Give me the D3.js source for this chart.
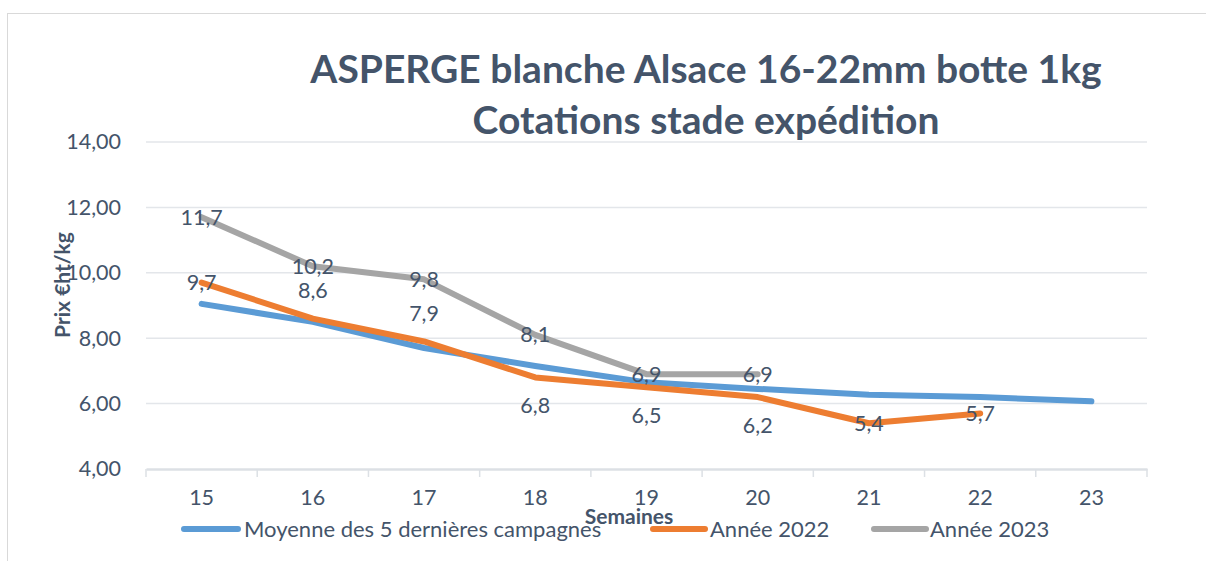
<!DOCTYPE html>
<html><head><meta charset="utf-8">
<script src="https://cdn.jsdelivr.net/npm/d3@7/dist/d3.min.js"></script>
<style>body{margin:0;background:#fff}svg{display:block}text{font-family:Lato,"Open Sans",sans-serif}</style>
</head><body><svg id="c" width="1206" height="561"></svg>
<script>
const weeks = ["15","16","17","18","19","20","21","22","23"];
const seriesNames = ["Moyenne des 5 dernières campagnes","Année 2022","Année 2023"];
const moyenne = [9.05,8.5,7.7,7.15,6.65,6.45,6.27,6.2,6.07];
const annee2022 = [9.7,8.6,7.9,6.8,6.5,6.2,5.4,5.7];
const annee2023 = [11.7,10.2,9.8,8.1,6.9,6.9];
const yTicks = [4,6,8,10,12,14];
const label2022Pos = ["c","a","a","b","b","b","c","c"];
const colors = ["#5B9BD5","#ED7D31","#A5A5A5"];
const textCol = "#44546A";

const svg = d3.select("#c");
svg.append("rect").attr("x",7.5).attr("y",13.5).attr("width",1300).attr("height",600)
  .attr("fill","#fff").attr("stroke","#D9D9D9");

const m = {l:146,r:1147,t:142,b:469};
const x = d3.scaleBand().domain(weeks).range([m.l,m.r]);
const y = d3.scaleLinear().domain([4,14]).range([m.b,m.t]);

svg.append("g").selectAll("line").data(yTicks.slice(1)).join("line")
  .attr("x1",m.l).attr("x2",m.r).attr("y1",d=>y(d)).attr("y2",d=>y(d))
  .attr("stroke","#E3E6EA").attr("stroke-width",1.5);

const fmt = d=>d.toFixed(2).replace(".",",");
const ya = svg.append("g").attr("transform",`translate(${m.l-22},0)`)
  .call(d3.axisLeft(y).tickValues(yTicks).tickFormat(fmt).tickSize(0));
ya.select(".domain").remove();
ya.selectAll("text").attr("fill",textCol).style("font-size","21.5px").style("font-family","Lato");

const xa = svg.append("g").attr("transform",`translate(0,${m.b})`)
  .call(d3.axisBottom(x).tickSize(0).tickPadding(21));
xa.select(".domain").attr("stroke","#DCE0E5").attr("stroke-width",2.5);
xa.selectAll("text").attr("fill",textCol).style("font-size","21.5px").style("font-family","Lato");
const bounds = weeks.map(w=>x(w)).concat([m.r]);
svg.append("g").selectAll("line").data(bounds).join("line")
  .attr("x1",d=>d).attr("x2",d=>d).attr("y1",m.b).attr("y2",m.b+8)
  .attr("stroke","#DCE0E5").attr("stroke-width",1.5);

const cx = i=>x(weeks[i])+x.bandwidth()/2;
const line = d3.line().x((d,i)=>cx(i)).y(d=>y(d));
[moyenne,annee2022,annee2023].forEach((s,k)=>{
  svg.append("path").attr("d",line(s)).attr("fill","none").attr("stroke",colors[k])
    .attr("stroke-width",6).attr("stroke-linecap","round").attr("stroke-linejoin","round");
});

const lab = d=>String(d).replace(".",",");
function addLabels(s,pos){
  svg.append("g").selectAll("text").data(s).join("text")
    .attr("x",(d,i)=>cx(i)).attr("y",(d,i)=>{
      const p = pos? pos[i]:"c";
      return y(d) + (p==="a"?-28:p==="b"?28:0);
    })
    .attr("dy","0.35em").attr("text-anchor","middle").attr("fill",textCol)
    .style("font-size","21.5px").text(lab);
}
addLabels(annee2022,label2022Pos);
addLabels(annee2023,null);

const t = svg.append("g").attr("fill",textCol).style("font-weight","bold");
t.append("text").attr("x",706).attr("y",83).attr("text-anchor","middle").style("font-size","39px")
  .text("ASPERGE blanche Alsace 16-22mm botte 1kg");
t.append("text").attr("x",706).attr("y",134).attr("text-anchor","middle").style("font-size","39px")
  .text("Cotations stade expédition");

svg.append("text").attr("transform","translate(70,285) rotate(-90)").attr("text-anchor","middle")
  .attr("fill",textCol).style("font-weight","bold").style("font-size","21px").text("Prix €ht/kg");
svg.append("text").attr("x",629).attr("y",524).attr("text-anchor","middle")
  .attr("fill",textCol).style("font-weight","bold").style("font-size","21px").text("Semaines");

const legLine = [[184,238],[653,705],[874,926]];
const legText = [244,710,930];
seriesNames.forEach((n,k)=>{
  svg.append("line").attr("x1",legLine[k][0]).attr("x2",legLine[k][1]).attr("y1",529).attr("y2",529)
    .attr("stroke",colors[k]).attr("stroke-width",6).attr("stroke-linecap","round");
  svg.append("text").attr("x",legText[k]).attr("y",529).attr("dy","0.35em").attr("fill",textCol)
    .style("font-size","22px").text(n);
});
</script></body></html>
